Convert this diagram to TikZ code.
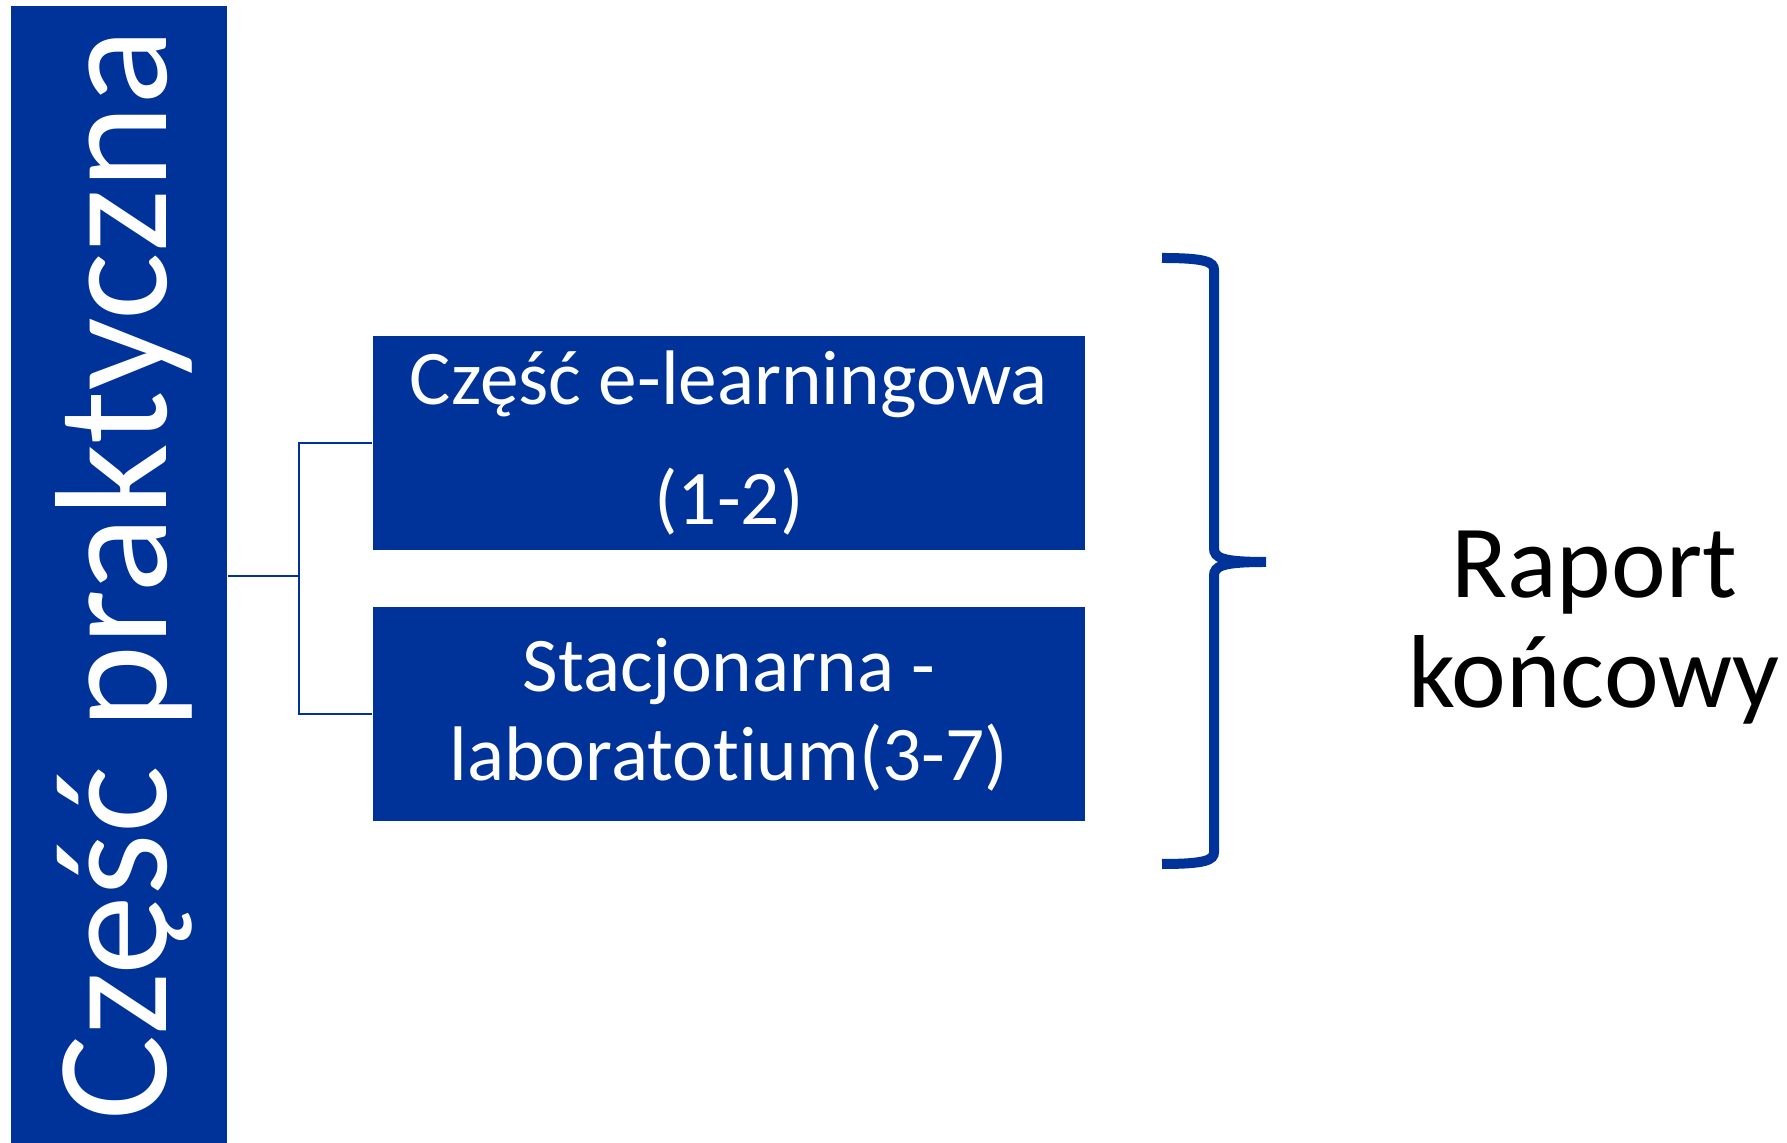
\documentclass[tikz,border=0pt]{standalone}
\usepackage{fontspec}
\setmainfont{Carlito}[Ligatures=NoCommon]
\usetikzlibrary{positioning}
\definecolor{bluedark}{HTML}{003399}

\begin{document}
\begin{tikzpicture}[x=0.1mm,y=-0.1mm,
        bar/.style = {rectangle, fill=bluedark, inner sep=0pt},
        part/.style = {rectangle, fill=bluedark, inner sep=0pt, minimum width=712*0.1mm, minimum height=214*0.1mm,
            text=white, align=center, font=\fontsize{22}{25.3}\selectfont},
        link/.style = {draw=bluedark, line width=0.2mm},
        brace/.style = {draw=bluedark, line width=1mm}]
        \useasboundingbox (0,0) rectangle (1787,1143);
        \node[bar,minimum width=216*0.1mm,minimum height=1137*0.1mm] (prak) at (119,574.5) {};
        \node[rotate=90,anchor=base,white,font=\fontsize{45.5}{50}\selectfont] at (166,575) {Część praktyczna};
        \node[part] (el) at (729,443) {Część e-learningowa\\[8.6pt](1-2)};
        \node[part] (lab) at (729,714.5) {Stacjonarna -\\laboratotium(3-7)};
        \coordinate (fork) at (299,576);
        \draw[link] (prak.east |- fork) -- (fork);
        \draw[link] (el.west) -| (fork) |- (lab.west);
        \draw[brace] (1162,258) .. controls (1206,258) and (1214,262) .. (1214,270) -- (1214,548)
            .. controls (1214,558) and (1222,562) .. (1266,562) .. controls (1222,562) and (1214,566) .. (1214,576)
            -- (1214,852) .. controls (1214,860) and (1206,864) .. (1162,864);
        \node[anchor=base,font=\fontsize{29.5}{32}\selectfont] (rap) at (1594,598) {Raport};
        \node[anchor=base,font=\fontsize{29.5}{32}\selectfont] (konc) at (1594,708) {końcowy};
    \end{tikzpicture}
\end{document}
